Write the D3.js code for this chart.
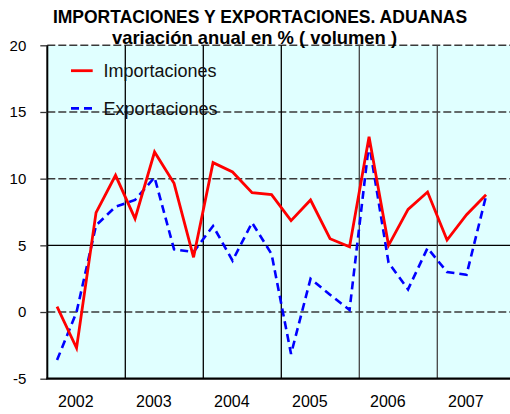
<!DOCTYPE html>
<html><head><meta charset="utf-8">
<script src="https://cdn.jsdelivr.net/npm/d3@7"></script>
<style>body{margin:0;background:#fff;} svg{display:block;font-family:"Liberation Sans",Arial,sans-serif;}</style>
</head><body>
<svg id="c" width="510" height="414"></svg>
<script>
const years = ["2002","2003","2004","2005","2006","2007"];
const quarters = ["I","II","III","IV"];
const yTicks = [-5,0,5,10,15,20];
const importaciones = [0.4,-2.7,7.45,10.25,7.0,12.0,9.65,4.1,11.2,10.5,8.95,8.8,6.85,8.4,5.5,4.9,13.15,5.0,7.7,9.0,5.4,7.3,8.8];
const exportaciones = [-3.6,0.0,6.5,7.9,8.4,10.1,4.7,4.5,6.45,3.85,6.7,4.35,-3.15,2.5,1.3,0.15,12.65,3.7,1.7,4.8,3.0,2.8,8.7];
const seriesNames = ["Importaciones","Exportaciones"];

const svg = d3.select("#c");
const L = 47.3, R = 515.3, T = 45.3, B = 378.7;
const nSlots = years.length * quarters.length;
const x = d3.scaleLinear().domain([0, nSlots]).range([L, R]);
const y = d3.scaleLinear().domain([-5, 20]).range([B, T]);

svg.append("rect").attr("x", L).attr("y", T).attr("width", R - L).attr("height", B - T).attr("fill", "#E0FFFF");

// horizontal gridlines
svg.append("g").selectAll("line").data(yTicks.filter(d => d > -5)).join("line")
  .attr("x1", L).attr("x2", R).attr("y1", d => y(d)).attr("y2", d => y(d))
  .attr("stroke", d => d === 5 ? "#000" : "#3a3a3a")
  .attr("stroke-width", d => d === 5 ? 1.2 : 1.5)
  .attr("stroke-dasharray", d => d === 5 ? null : "8,3");

// vertical year lines
svg.append("g").selectAll("line").data(d3.range(1, years.length)).join("line")
  .attr("x1", d => x(d * 4)).attr("x2", d => x(d * 4)).attr("y1", T).attr("y2", B)
  .attr("stroke", d => d >= 4 ? "#444" : "#000").attr("stroke-width", 1.3);

// y axis
const yAxis = d3.axisLeft(y).tickValues(yTicks).tickSize(7).tickPadding(14).tickFormat(d => String(d));
const ga = svg.append("g").attr("transform", `translate(${L},0)`).call(yAxis);
ga.select(".domain").attr("stroke", "#000").attr("stroke-width", 2).attr("d", `M0,${T}V${B}`);
ga.selectAll(".tick line").attr("stroke", "#333").attr("stroke-width", 1.3);
ga.selectAll(".tick text").attr("font-size", 15).attr("fill", "#000").attr("font-family", "Liberation Sans, Arial, sans-serif");

// x axis line
svg.append("line").attr("x1", L - 1).attr("x2", R).attr("y1", B).attr("y2", B).attr("stroke", "#000").attr("stroke-width", 2.2);

// year labels
svg.append("g").selectAll("text").data(years).join("text")
  .attr("x", (d, i) => x(i * 4) + 28.5).attr("y", 407)
  .attr("text-anchor", "middle").attr("font-size", 16).text(d => d);

// lines
const line = d3.line().x((d, i) => x(i + 0.5)).y(d => y(d));
svg.append("path").datum(exportaciones).attr("d", line).attr("fill", "none")
  .attr("stroke", "#0000FF").attr("stroke-width", 2.6).attr("stroke-dasharray", "8,5");
svg.append("path").datum(importaciones).attr("d", line).attr("fill", "none")
  .attr("stroke", "#FF0000").attr("stroke-width", 2.8).attr("stroke-linejoin", "miter");

// legend
const lg = svg.append("g");
const legY = [70.7, 108.3];
lg.append("line").attr("x1", 71).attr("x2", 92.7).attr("y1", legY[0]).attr("y2", legY[0]).attr("stroke", "#FF0000").attr("stroke-width", 2.8);
lg.append("line").attr("x1", 71).attr("x2", 92.7).attr("y1", legY[1]).attr("y2", legY[1]).attr("stroke", "#0000FF").attr("stroke-width", 2.8).attr("stroke-dasharray", "8,5");
lg.selectAll("text").data(seriesNames).join("text")
  .attr("x", 103.5).attr("y", (d, i) => legY[i] + 6.5).attr("font-size", 18).attr("fill", "#111").text(d => d);

// titles
svg.append("text").attr("x", 260).attr("y", 23).attr("text-anchor", "middle").attr("font-size", 17.5).attr("font-weight", "bold").text("IMPORTACIONES Y EXPORTACIONES. ADUANAS");
svg.append("text").attr("x", 254.5).attr("y", 43.5).attr("text-anchor", "middle").attr("font-size", 18.4).attr("font-weight", "bold").text("variación anual en % ( volumen )");
</script>
</body></html>
